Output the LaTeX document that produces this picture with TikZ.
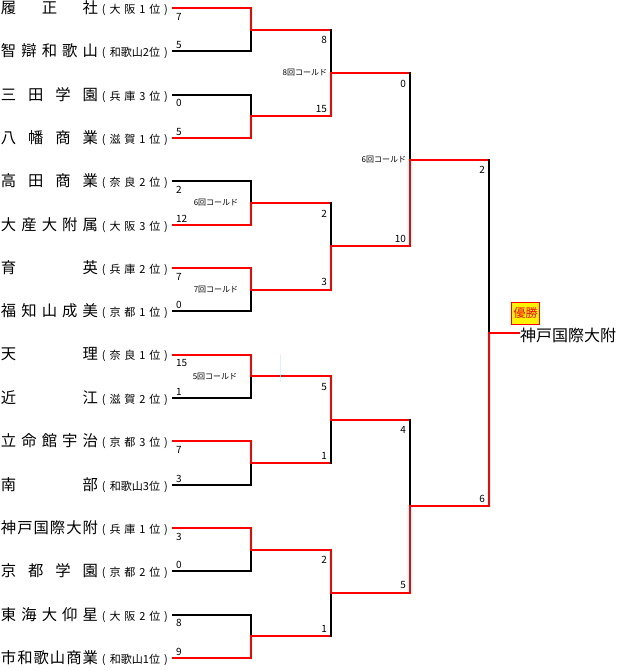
\documentclass[tikz,border=0pt]{standalone}
\usepackage{fontspec}
\setmainfont{Noto Sans CJK JP}
\usepackage{tikz}
\usetikzlibrary{calc}

\newcommand{\team}[2]{\makebox[72.75pt][s]{\fontsize{11.5}{14}\selectfont #1}\hspace{3pt}\makebox[49.5pt][s]{\fontsize{8.3}{10}\selectfont #2}}

\begin{document}
\begin{tikzpicture}[x=0.75pt, y=-0.75pt, line width=1.5pt, line cap=rect,
    win/.style={red}, lose/.style={black},
    teamname/.style={inner sep=0pt, anchor=west},
    score/.style={font=\fontsize{7.5}{9}\selectfont, inner sep=0pt},
    called/.style={font=\fontsize{6}{7}\selectfont, inner sep=0pt},
    yusho/.style={draw=red, line width=0.8pt, fill=yellow, text=red, font=\fontsize{9}{10}\selectfont,
        inner sep=1pt, minimum width=21pt, minimum height=16.5pt}]
    \useasboundingbox (0,0) rectangle (626,671);
    \foreach \i/\nm/\pf in {
        1/{履\hfill{}正\hfill{}社}/{(\hfill{}大\hfill{}阪\hfill{}1\hfill{}位\hfill{})},
        2/{智\hfill{}辯\hfill{}和\hfill{}歌\hfill{}山}/{(\hfill{}和歌山2位\hfill{})},
        3/{三\hfill{}田\hfill{}学\hfill{}園}/{(\hfill{}兵\hfill{}庫\hfill{}3\hfill{}位\hfill{})},
        4/{八\hfill{}幡\hfill{}商\hfill{}業}/{(\hfill{}滋\hfill{}賀\hfill{}1\hfill{}位\hfill{})},
        5/{高\hfill{}田\hfill{}商\hfill{}業}/{(\hfill{}奈\hfill{}良\hfill{}2\hfill{}位\hfill{})},
        6/{大\hfill{}産\hfill{}大\hfill{}附\hfill{}属}/{(\hfill{}大\hfill{}阪\hfill{}3\hfill{}位\hfill{})},
        7/{育\hfill{}英}/{(\hfill{}兵\hfill{}庫\hfill{}2\hfill{}位\hfill{})},
        8/{福\hfill{}知\hfill{}山\hfill{}成\hfill{}美}/{(\hfill{}京\hfill{}都\hfill{}1\hfill{}位\hfill{})},
        9/{天\hfill{}理}/{(\hfill{}奈\hfill{}良\hfill{}1\hfill{}位\hfill{})},
        10/{近\hfill{}江}/{(\hfill{}滋\hfill{}賀\hfill{}2\hfill{}位\hfill{})},
        11/{立\hfill{}命\hfill{}館\hfill{}宇\hfill{}治}/{(\hfill{}京\hfill{}都\hfill{}3\hfill{}位\hfill{})},
        12/{南\hfill{}部}/{(\hfill{}和歌山3位\hfill{})},
        13/{神\hfill{}戸\hfill{}国\hfill{}際\hfill{}大\hfill{}附}/{(\hfill{}兵\hfill{}庫\hfill{}1\hfill{}位\hfill{})},
        14/{京\hfill{}都\hfill{}学\hfill{}園}/{(\hfill{}京\hfill{}都\hfill{}2\hfill{}位\hfill{})},
        15/{東\hfill{}海\hfill{}大\hfill{}仰\hfill{}星}/{(\hfill{}大\hfill{}阪\hfill{}2\hfill{}位\hfill{})},
        16/{市\hfill{}和\hfill{}歌\hfill{}山\hfill{}商\hfill{}業}/{(\hfill{}和歌山1位\hfill{})}}{
        \pgfmathsetmacro\yy{8+43.333*(\i-1)}
        \coordinate (s\i) at (173,\yy);
        \coordinate (a\i) at (251,\yy);
        \node[teamname] (t\i) at (0,\yy) {\team{\nm}{\pf}};
    }
    \foreach \j in {1,...,8}{
        \pgfmathtruncatemacro\lo{2*\j-1}
        \pgfmathtruncatemacro\hi{2*\j}
        \coordinate (m\j) at ($(a\lo)!.5!(a\hi)$);
        \coordinate (b\j) at ($(m\j)+(80,0)$);
    }
    \foreach \k in {1,...,4}{
        \pgfmathtruncatemacro\lo{2*\k-1}
        \pgfmathtruncatemacro\hi{2*\k}
        \coordinate (n\k) at ($(b\lo)!.5!(b\hi)$);
        \coordinate (c\k) at ($(n\k)+(79,0)$);
    }
    \foreach \l in {1,2}{
        \pgfmathtruncatemacro\lo{2*\l-1}
        \pgfmathtruncatemacro\hi{2*\l}
        \coordinate (q\l) at ($(c\lo)!.5!(c\hi)$);
        \coordinate (d\l) at ($(q\l)+(79,0)$);
    }
    \coordinate (f) at ($(d1)!.5!(d2)$);

    \foreach \i/\col in {2/lose,3/lose,5/lose,8/lose,10/lose,12/lose,14/lose,15/lose,
                         1/win,4/win,6/win,7/win,9/win,11/win,13/win,16/win}{
        \pgfmathtruncatemacro\j{(\i+1)/2}
        \draw[\col] (s\i) -- (a\i) -- (m\j);
    }
    \foreach \j/\col in {1/lose,3/lose,6/lose,8/lose,2/win,4/win,5/win,7/win}{
        \pgfmathtruncatemacro\k{(\j+1)/2}
        \draw[win] (m\j) -- (b\j);
        \draw[\col] (b\j) -- (n\k);
    }
    \foreach \k/\col in {1/lose,3/lose,2/win,4/win}{
        \pgfmathtruncatemacro\l{(\k+1)/2}
        \draw[win] (n\k) -- (c\k);
        \draw[\col] (c\k) -- (q\l);
    }
    \draw[win] (q1) -- (d1);
    \draw[win] (q2) -- (d2);
    \draw[lose] (d1) -- (f);
    \draw[win] (d2) -- (f);

    \node[inner sep=0pt, anchor=west, font=\fontsize{12}{14}\selectfont] (champ) at ($(f)+(30,2)$) {神戸国際大附};
    \draw[win] (f) -- (f -| champ.west);
    \node[yusho, anchor=south west] (yu) at ($(champ.north west)+(-8,-2)$) {優勝};

    \foreach \i/\sc in {1/7,2/5,3/0,4/5,5/2,6/12,7/7,8/0,9/15,10/1,11/7,12/3,13/3,14/0,15/8,16/9}{
        \ifodd\i\relax
            \node[score, anchor=north west] (ra\i) at ($(s\i)+(2,4)$) {\sc};
        \else
            \node[score, anchor=south west] (ra\i) at ($(s\i)+(2,-1.5)$) {\sc};
        \fi
    }
    \foreach \j/\sc in {1/8,2/15,3/2,4/3,5/5,6/1,7/2,8/1}{
        \ifodd\j\relax
            \node[score, anchor=north east] (rb\j) at ($(b\j)+(-3,6)$) {\sc};
        \else
            \node[score, anchor=south east] (rb\j) at ($(b\j)+(-3,-3)$) {\sc};
        \fi
    }
    \foreach \k/\sc in {1/0,2/10,3/4,4/5}{
        \ifodd\k\relax
            \node[score, anchor=north east] (rc\k) at ($(c\k)+(-3,6)$) {\sc};
        \else
            \node[score, anchor=south east] (rc\k) at ($(c\k)+(-3,-3)$) {\sc};
        \fi
    }
    \node[score, anchor=north east] (rd1) at ($(d1)+(-3,6)$) {2};
    \node[score, anchor=south east] (rd2) at ($(d2)+(-3,-3)$) {6};

    \node[called] (cl1) at ($(m3)+(-35,0)$) {6回コールド};
    \node[called] (cl2) at ($(m4)+(-35,0)$) {7回コールド};
    \node[called] (cl3) at ($(m5)+(-36,0)$) {5回コールド};
    \node[called, anchor=east] (cl4) at ($(n1)+(-3,0)$) {8回コールド};
    \node[called, anchor=east] (cl5) at ($(q1)+(-3,0)$) {6回コールド};

    \draw[cyan!15, line width=0.5pt] (280,355) -- (280,382);
\end{tikzpicture}
\end{document}
